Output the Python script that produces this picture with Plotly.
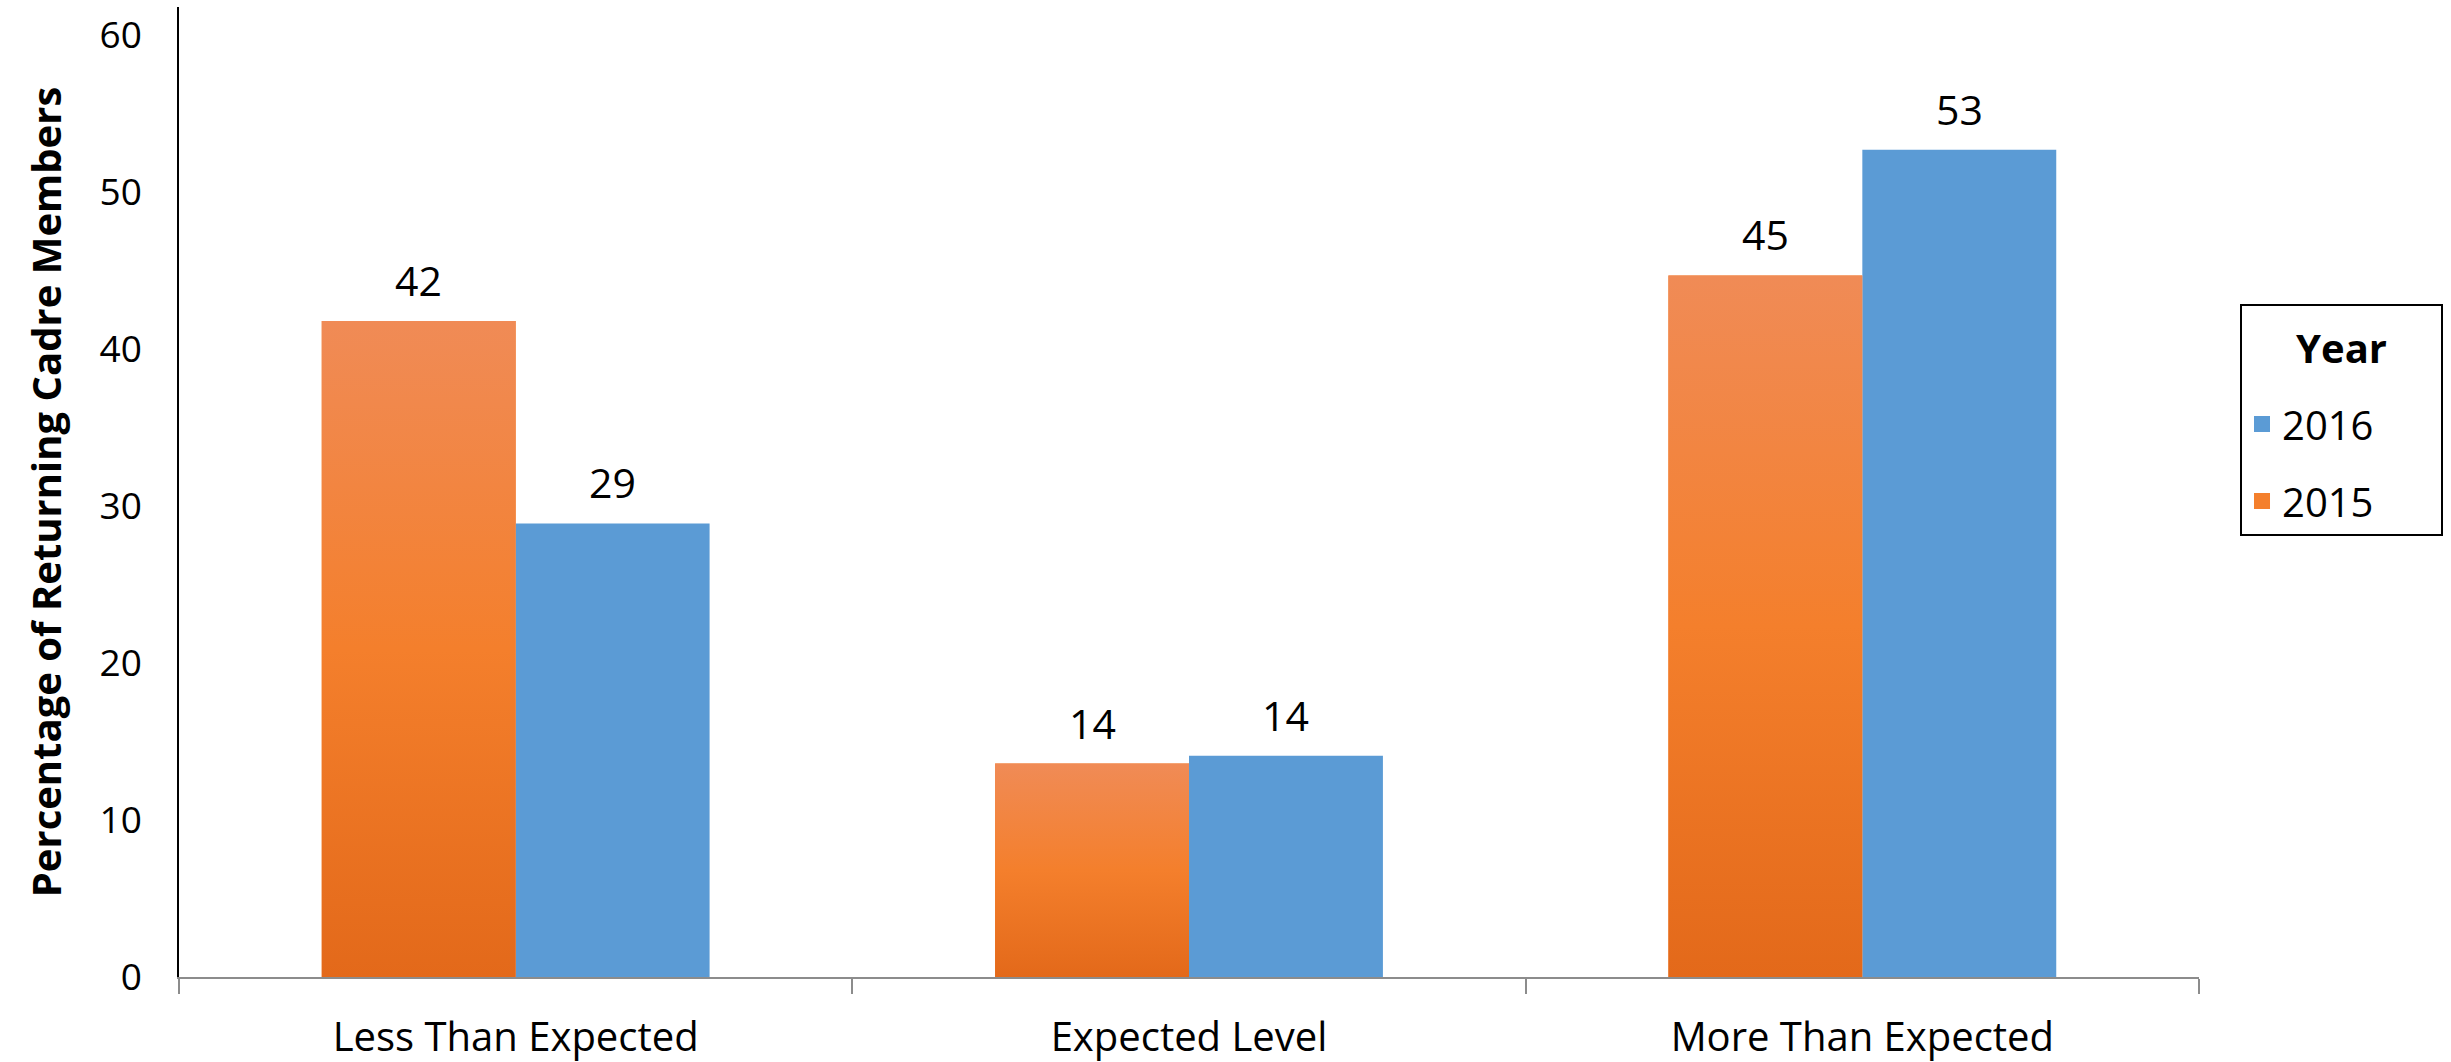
import plotly.graph_objects as go

# Survey results: share of returning cadre members by perceived level
categories = ["Less Than Expected", "Expected Level", "More Than Expected"]
years = ["2015", "2016"]
pct_2015 = [41.8, 13.6, 44.7]
pct_2016 = [28.9, 14.1, 52.7]
y_ticks = [0, 10, 20, 30, 40, 50, 60]

ORANGE_MID = "#f47f2c"
ORANGE_SCALE = [[0.0, "#e3691a"], [0.5, "#f47f2c"], [1.0, "#f08b56"]]
BLUE = "#5b9bd5"
FONT = "Open Sans"

pos = list(range(len(categories)))
bw = 0.288  # width of each bar in category units

fig = go.Figure()

fig.add_trace(go.Bar(
    x=pos, y=pct_2015, width=bw, offset=-bw, name=years[0],
    marker=dict(color=ORANGE_MID, line=dict(width=0)),
    showlegend=False, hoverinfo="skip",
))
fig.add_trace(go.Bar(
    x=pos, y=pct_2016, width=bw, offset=0, name=years[1],
    marker=dict(color=BLUE, line=dict(width=0)),
    showlegend=False, hoverinfo="skip",
))

# vertical gradient shading for the 2015 bars, one filled outline per bar
for p, v in zip(pos, pct_2015):
    fig.add_trace(go.Scatter(
        x=[p - bw, p, p, p - bw, p - bw], y=[0, 0, v, v, 0],
        mode="lines", fill="toself", line=dict(width=0),
        fillgradient=dict(type="vertical", colorscale=ORANGE_SCALE),
        showlegend=False, hoverinfo="skip",
    ))

# legend entries (larger square swatches than the default bar symbol)
pad = "&nbsp;" * 6
for name, color, grp in ((years[1], BLUE, "g1"), (years[0], ORANGE_MID, "g2")):
    fig.add_trace(go.Scatter(
        x=[None], y=[None], mode="markers", name=name + pad,
        marker=dict(symbol="square", size=16, color=color),
        legendgroup=grp, hoverinfo="skip",
    ))

# value labels above each bar
annotations = []
for series, off in ((pct_2015, -bw / 2), (pct_2016, bw / 2)):
    for p, v in zip(pos, series):
        annotations.append(dict(
            x=p + off, y=v, text=f"{v:.0f}", showarrow=False,
            yanchor="bottom", yshift=11, font=dict(size=41, color="black", family=FONT),
        ))

fig.update_layout(
    width=2451, height=1062,
    margin=dict(l=179, r=252, t=7, b=85, pad=0, autoexpand=False),
    paper_bgcolor="white", plot_bgcolor="white",
    font=dict(family=FONT, color="black", size=40),
    barmode="overlay",
    annotations=annotations,
    showlegend=True,
    legend=dict(
        x=1.0203, xanchor="left", y=0.694, yanchor="top",
        bordercolor="black", borderwidth=2,
        title=dict(text="<br><span style='font-size:40px'><b>Year</b></span><br> ",
                   font=dict(size=22), side="top center"),
        traceorder="grouped", tracegroupgap=22,
        font=dict(size=40), itemsizing="trace",
    ),
    xaxis=dict(
        range=[-0.5, 2.5], tickvals=pos, ticktext=categories,
        showgrid=False, zeroline=False, automargin=False,
        showline=True, linecolor="#8c8c8c", linewidth=2,
        ticks="", ticklabelstandoff=24,
        minor=dict(tick0=-0.5, dtick=1, ticks="outside", ticklen=15,
                   tickcolor="#8c8c8c", tickwidth=2, showgrid=False),
        tickfont=dict(size=40),
    ),
    yaxis=dict(
        range=[0, 61.8], tickvals=y_ticks,
        showgrid=False, zeroline=False, automargin=False,
        showline=True, linecolor="black", linewidth=1.5,
        ticks="", ticklabelstandoff=28,
        tickfont=dict(size=37),
        title=dict(text="<b>Percentage of Returning Cadre Members</b>",
                   font=dict(size=40), standoff=26),
    ),
)

fig.write_html("out.html")
